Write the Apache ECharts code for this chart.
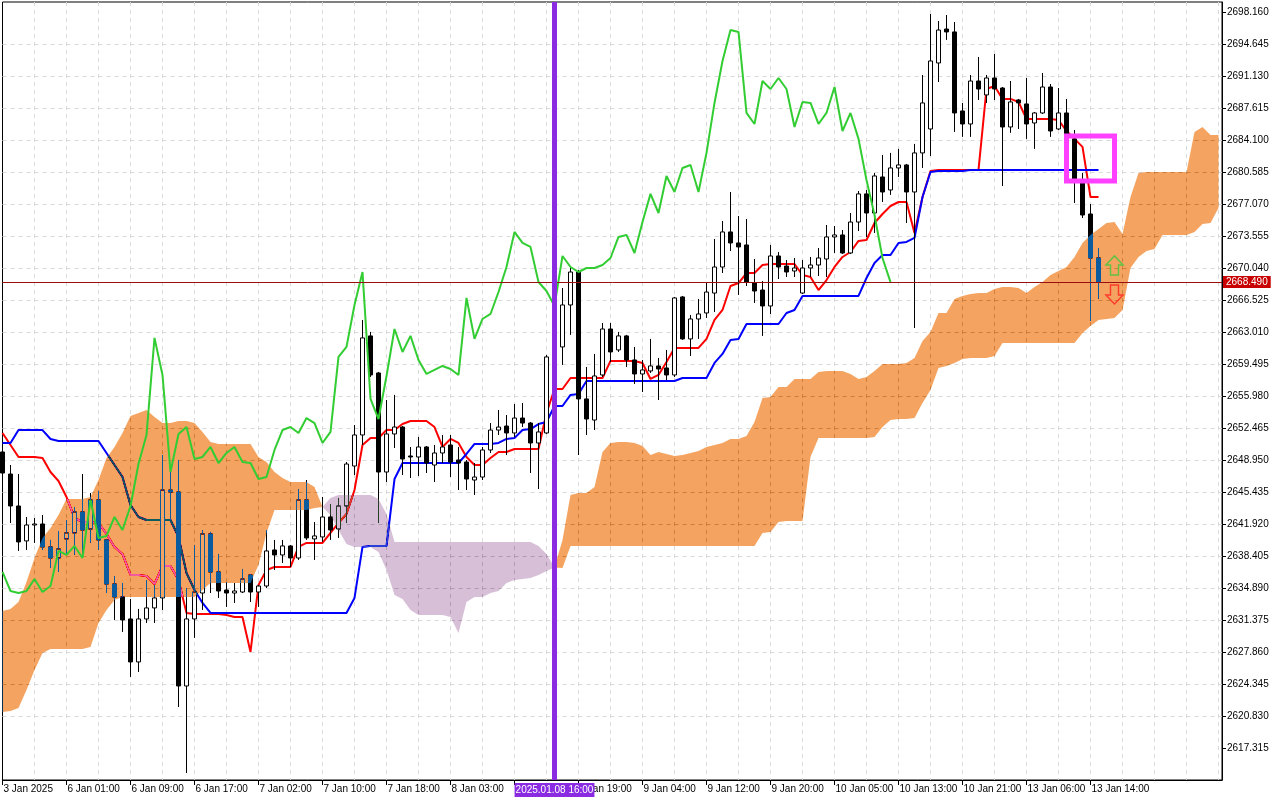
<!DOCTYPE html>
<html>
<head>
<meta charset="utf-8">
<title>XAUUSD H1 Ichimoku</title>
<script src="https://cdn.jsdelivr.net/npm/echarts@6.0.0/dist/echarts.min.js"></script>
<style>
  html, body { margin: 0; padding: 0; background: #fff; }
  #chart { width: 1280px; height: 800px; }
</style>
</head>
<body>
<div id="chart"></div>
<script>
// time axis: one label every 8 hourly bars
const tickLabels = ['3 Jan 2025', '6 Jan 01:00', '6 Jan 09:00', '6 Jan 17:00', '7 Jan 02:00', '7 Jan 10:00',
  '7 Jan 18:00', '8 Jan 03:00', '8 Jan 11:00', '8 Jan 19:00', '9 Jan 04:00', '9 Jan 12:00', '9 Jan 20:00',
  '10 Jan 05:00', '10 Jan 13:00', '10 Jan 21:00', '13 Jan 06:00', '13 Jan 14:00']
const priceTicks = [2617.315, 2620.830, 2624.345, 2627.860, 2631.375, 2634.890, 2638.405, 2641.920,
  2645.435, 2648.950, 2652.465, 2655.980, 2659.495, 2663.010, 2666.525, 2670.040, 2673.555, 2677.070,
  2680.585, 2684.100, 2687.615, 2691.130, 2694.645, 2698.160]

// candles, bar 0 .. 137
const opens = [2649.83, 2647.41, 2643.90, 2640.06, 2641.81, 2641.92, 2639.40, 2638.19, 2640.28, 2640.94,
  2643.24, 2641.37, 2644.56, 2640.17, 2635.33, 2633.91, 2631.49, 2626.77, 2631.49, 2632.70,
  2633.80, 2645.65, 2645.43, 2624.13, 2631.49, 2634.34, 2640.83, 2636.65, 2634.67, 2634.34,
  2634.45, 2636.32, 2634.45, 2635.11, 2639.07, 2638.52, 2639.51, 2638.19, 2644.56, 2640.28,
  2640.50, 2642.69, 2641.37, 2643.90, 2648.29, 2651.70, 2662.58, 2658.51, 2647.63, 2651.81,
  2652.57, 2649.39, 2649.28, 2650.38, 2648.40, 2649.72, 2650.60, 2648.95, 2648.73, 2646.75,
  2647.08, 2650.05, 2652.24, 2652.68, 2651.92, 2653.56, 2653.01, 2650.82, 2651.92, 2660.27,
  2661.37, 2665.98, 2669.60, 2655.66, 2653.34, 2658.29, 2663.34, 2661.04, 2662.58, 2659.94,
  2658.40, 2658.73, 2659.28, 2659.06, 2658.29, 2666.86, 2662.25, 2664.44, 2665.10, 2667.29,
  2670.15, 2674.00, 2672.79, 2672.57, 2668.39, 2667.62, 2665.87, 2671.36, 2670.26, 2669.71,
  2667.29, 2670.04, 2670.37, 2671.03, 2673.45, 2673.67, 2671.69, 2675.09, 2678.18, 2676.08,
  2680.04, 2678.61, 2681.03, 2681.36, 2678.39, 2682.68, 2685.31, 2692.56, 2696.29, 2695.97,
  2687.29, 2685.86, 2690.58, 2689.05, 2690.91, 2689.81, 2685.53, 2688.50, 2688.06, 2685.97,
  2687.07, 2689.92, 2685.31, 2687.07, 2684.22, 2679.71, 2675.97, 2671.14]
const closes = [2647.52, 2643.90, 2639.95, 2641.81, 2641.92, 2639.40, 2638.19, 2639.18, 2640.94, 2643.24,
  2641.26, 2644.56, 2640.17, 2635.33, 2633.91, 2631.38, 2626.77, 2631.49, 2632.70, 2633.80,
  2645.65, 2645.43, 2624.13, 2631.49, 2634.45, 2640.83, 2636.65, 2634.56, 2634.34, 2634.56,
  2635.88, 2634.45, 2635.11, 2638.96, 2638.52, 2639.51, 2638.19, 2644.56, 2640.39, 2640.61,
  2642.69, 2641.26, 2643.90, 2648.51, 2651.70, 2662.36, 2658.29, 2647.63, 2651.81, 2652.57,
  2649.06, 2649.28, 2650.38, 2648.62, 2649.72, 2650.38, 2648.73, 2648.62, 2646.86, 2647.08,
  2650.05, 2652.24, 2652.57, 2651.92, 2653.56, 2653.01, 2650.82, 2652.03, 2660.27, 2661.37,
  2665.98, 2669.60, 2655.66, 2653.45, 2658.18, 2663.34, 2660.82, 2662.58, 2659.94, 2658.40,
  2658.84, 2659.28, 2658.95, 2658.29, 2666.75, 2662.25, 2664.44, 2664.99, 2667.40, 2670.15,
  2674.00, 2672.79, 2672.35, 2668.50, 2667.51, 2665.87, 2671.36, 2670.15, 2669.60, 2670.04,
  2670.04, 2670.37, 2671.14, 2673.45, 2673.67, 2671.69, 2675.09, 2678.18, 2676.08, 2680.15,
  2678.39, 2681.03, 2681.36, 2678.39, 2682.68, 2688.17, 2692.78, 2696.18, 2695.97, 2687.07,
  2685.86, 2690.58, 2689.70, 2690.91, 2689.70, 2685.53, 2688.28, 2688.17, 2685.86, 2687.07,
  2689.92, 2685.09, 2687.07, 2684.22, 2679.71, 2675.86, 2671.14, 2668.49]
const lows = [2647.19, 2642.03, 2638.96, 2639.07, 2639.84, 2639.07, 2637.09, 2636.65, 2638.52, 2638.52,
  2638.30, 2639.84, 2639.07, 2634.34, 2631.38, 2630.07, 2625.12, 2625.67, 2631.05, 2631.05,
  2632.48, 2642.36, 2621.82, 2614.57, 2629.41, 2632.48, 2634.34, 2633.80, 2632.81, 2633.25,
  2634.34, 2633.36, 2632.81, 2634.89, 2636.87, 2637.64, 2637.20, 2637.97, 2640.17, 2637.97,
  2639.95, 2640.17, 2640.39, 2642.03, 2647.30, 2650.60, 2658.07, 2642.03, 2646.53, 2650.27,
  2647.30, 2646.97, 2647.19, 2647.52, 2646.53, 2648.62, 2647.08, 2645.65, 2645.65, 2645.11,
  2646.75, 2649.72, 2651.70, 2649.50, 2651.48, 2652.57, 2647.52, 2645.76, 2651.81, 2657.74,
  2659.39, 2662.69, 2649.50, 2651.70, 2652.24, 2658.07, 2659.72, 2660.82, 2659.17, 2657.30,
  2656.42, 2658.51, 2655.54, 2657.74, 2658.07, 2662.14, 2660.38, 2662.25, 2664.55, 2665.21,
  2669.49, 2671.91, 2667.08, 2668.06, 2666.20, 2662.58, 2664.99, 2668.83, 2669.05, 2669.05,
  2667.18, 2669.05, 2669.16, 2669.05, 2671.69, 2671.58, 2671.58, 2674.10, 2673.45, 2673.89,
  2677.29, 2678.07, 2680.04, 2674.98, 2663.45, 2681.03, 2682.35, 2690.47, 2695.09, 2684.99,
  2684.44, 2684.44, 2688.50, 2688.17, 2688.50, 2679.05, 2684.88, 2685.31, 2684.22, 2683.12,
  2686.96, 2684.44, 2685.20, 2683.78, 2677.18, 2675.53, 2664.22, 2666.64]
const highs = [2650.27, 2648.40, 2647.41, 2642.69, 2642.58, 2642.91, 2640.17, 2641.15, 2642.36, 2643.79,
  2647.41, 2645.32, 2645.54, 2640.28, 2636.21, 2635.44, 2633.69, 2632.59, 2635.77, 2635.22,
  2649.50, 2647.63, 2648.95, 2634.89, 2639.62, 2641.26, 2641.05, 2638.63, 2635.55, 2635.44,
  2636.98, 2636.43, 2635.22, 2641.26, 2640.17, 2640.17, 2639.62, 2645.76, 2646.75, 2642.14,
  2644.89, 2644.12, 2644.78, 2648.73, 2652.79, 2664.33, 2663.02, 2658.62, 2655.54, 2656.10,
  2652.68, 2650.38, 2651.48, 2650.49, 2650.60, 2651.70, 2651.70, 2650.38, 2648.95, 2648.62,
  2650.38, 2653.01, 2654.44, 2653.89, 2655.10, 2655.21, 2653.12, 2653.01, 2660.49, 2662.14,
  2667.84, 2670.04, 2669.82, 2659.17, 2660.60, 2664.00, 2664.00, 2663.02, 2662.69, 2661.37,
  2659.94, 2662.25, 2660.16, 2661.04, 2666.86, 2666.97, 2664.88, 2666.64, 2668.50, 2673.23,
  2675.20, 2678.39, 2675.75, 2675.42, 2671.03, 2668.61, 2672.57, 2671.80, 2670.92, 2671.14,
  2670.92, 2671.25, 2672.24, 2674.76, 2674.65, 2674.21, 2676.08, 2678.50, 2678.61, 2680.48,
  2682.46, 2682.68, 2683.12, 2681.47, 2683.67, 2691.24, 2697.94, 2697.17, 2697.83, 2697.06,
  2688.17, 2691.24, 2693.22, 2691.24, 2693.55, 2689.92, 2690.58, 2688.61, 2690.91, 2687.18,
  2691.46, 2690.25, 2689.81, 2688.61, 2685.20, 2680.48, 2677.07, 2672.24]

// Ichimoku lines
const tenkan = [2651.92, 2650.60, 2649.28, 2649.28, 2649.28, 2649.17, 2647.63, 2646.64, 2644.89, 2642.58,
  2642.14, 2642.14, 2642.03, 2640.83, 2639.40, 2638.63, 2636.32, 2636.32, 2636.21, 2635.33,
  2637.31, 2637.31, 2635.77, 2632.15, 2632.04, 2632.04, 2632.04, 2632.04, 2631.93, 2631.71,
  2631.71, 2627.86, 2635.22, 2636.87, 2637.20, 2637.20, 2637.20, 2639.40, 2639.84, 2639.84,
  2639.84, 2640.94, 2642.03, 2643.02, 2645.65, 2650.60, 2651.37, 2651.37, 2652.24, 2652.24,
  2652.90, 2653.23, 2653.23, 2653.23, 2652.57, 2650.38, 2651.26, 2650.82, 2649.28, 2648.40,
  2648.40, 2649.17, 2649.83, 2649.83, 2650.16, 2650.16, 2650.16, 2650.16, 2654.11, 2656.75,
  2656.75, 2657.96, 2657.96, 2657.96, 2657.96, 2657.96, 2659.83, 2659.83, 2659.83, 2659.83,
  2659.61, 2657.85, 2658.29, 2659.72, 2661.26, 2661.26, 2661.26, 2661.26, 2662.25, 2664.33,
  2665.43, 2668.06, 2668.39, 2669.49, 2669.49, 2670.37, 2670.48, 2670.48, 2670.48, 2670.48,
  2669.27, 2669.05, 2667.62, 2668.72, 2670.15, 2671.25, 2671.80, 2673.01, 2673.12, 2674.98,
  2675.97, 2676.85, 2677.29, 2677.29, 2673.89, 2677.84, 2680.70, 2680.81, 2680.81, 2680.81,
  2680.81, 2680.81, 2680.81, 2689.70, 2690.03, 2688.61, 2688.61, 2688.28, 2686.41, 2686.41,
  2686.41, 2686.41, 2686.30, 2685.09, 2684.22, 2683.34, 2677.84, 2677.84]
const kijun = [2650.82, 2650.82, 2652.24, 2652.24, 2652.24, 2652.24, 2651.26, 2651.04, 2651.04, 2651.04,
  2651.04, 2651.04, 2651.04, 2649.72, 2648.40, 2647.08, 2644.01, 2642.69, 2642.36, 2642.36,
  2642.36, 2642.36, 2640.50, 2636.54, 2634.67, 2633.25, 2632.15, 2632.15, 2632.15, 2632.15,
  2632.15, 2632.15, 2632.15, 2632.15, 2632.15, 2632.15, 2632.15, 2632.15, 2632.15, 2632.15,
  2632.15, 2632.15, 2632.15, 2632.15, 2633.80, 2639.40, 2639.51, 2639.51, 2639.51, 2646.86,
  2648.62, 2648.62, 2648.62, 2648.62, 2648.62, 2648.62, 2648.62, 2648.62, 2649.61, 2650.71,
  2650.71, 2650.71, 2650.82, 2651.26, 2651.37, 2652.24, 2652.35, 2652.90, 2653.12, 2654.88,
  2654.88, 2656.10, 2656.21, 2657.63, 2657.63, 2657.63, 2657.63, 2657.63, 2657.63, 2657.63,
  2657.63, 2657.63, 2657.63, 2657.63, 2657.63, 2657.96, 2657.96, 2657.96, 2657.96, 2659.61,
  2660.60, 2662.14, 2662.25, 2663.89, 2663.89, 2663.89, 2663.89, 2663.89, 2665.10, 2665.43,
  2666.97, 2666.97, 2666.97, 2666.97, 2666.97, 2666.97, 2666.97, 2666.97, 2668.94, 2670.59,
  2671.47, 2671.47, 2672.79, 2672.90, 2673.34, 2677.84, 2680.59, 2680.70, 2680.70, 2680.70,
  2680.70, 2680.81, 2680.81, 2680.81, 2680.81, 2680.81, 2680.81, 2680.81, 2680.81, 2680.81,
  2680.81, 2680.81, 2680.81, 2680.81, 2680.81, 2680.81, 2680.81, 2680.81]
const chikouShift = 26

// Senkou spans, already shifted forward, bar 0 .. 152
const spanA = [2632.37, 2632.59, 2633.36, 2635.55, 2638.19, 2640.39, 2641.48, 2642.91, 2644.67, 2644.67,
  2644.67, 2644.89, 2646.75, 2649.17, 2650.38, 2651.92, 2653.78, 2654.11, 2654.44, 2653.67,
  2653.01, 2653.01, 2653.23, 2653.23, 2653.01, 2652.03, 2650.93, 2650.71, 2650.71, 2650.71,
  2650.71, 2650.71, 2649.28, 2648.73, 2647.63, 2646.97, 2646.53, 2646.53, 2646.53, 2645.98,
  2643.79, 2642.91, 2641.26, 2639.73, 2639.40, 2639.40, 2639.40, 2638.85, 2636.87, 2634.12,
  2633.69, 2632.48, 2631.93, 2631.93, 2631.93, 2631.93, 2631.71, 2629.96, 2633.36, 2633.91,
  2633.91, 2634.34, 2634.56, 2635.44, 2635.77, 2635.88, 2635.99, 2636.32, 2636.76, 2637.15,
  2640.17, 2645.11, 2645.32, 2645.32, 2645.98, 2649.83, 2650.82, 2650.93, 2650.93, 2650.82,
  2650.49, 2649.50, 2649.83, 2649.61, 2649.39, 2649.50, 2649.72, 2649.94, 2650.38, 2650.60,
  2650.82, 2651.26, 2651.26, 2651.59, 2653.12, 2655.76, 2655.87, 2656.97, 2656.97, 2657.85,
  2657.85, 2657.85, 2658.62, 2658.73, 2658.73, 2658.73, 2658.40, 2657.85, 2658.07, 2658.73,
  2659.50, 2659.50, 2659.50, 2659.61, 2660.16, 2662.03, 2663.02, 2665.10, 2665.10, 2666.64,
  2666.97, 2667.18, 2667.29, 2667.29, 2667.73, 2667.95, 2667.95, 2667.84, 2667.29, 2667.95,
  2668.50, 2669.27, 2669.71, 2670.15, 2671.25, 2672.79, 2673.67, 2674.32, 2674.98, 2675.09,
  2673.78, 2677.84, 2680.48, 2680.59, 2680.59, 2680.59, 2680.59, 2680.59, 2680.59, 2684.98,
  2685.53, 2684.66, 2684.66]
const spanB = [2621.27, 2621.38, 2621.71, 2623.69, 2625.89, 2627.75, 2628.19, 2628.19, 2628.19, 2628.19,
  2628.19, 2628.41, 2631.05, 2632.48, 2633.58, 2633.91, 2633.91, 2633.91, 2633.91, 2633.91,
  2633.91, 2633.91, 2633.91, 2633.91, 2633.91, 2634.67, 2635.44, 2635.44, 2635.44, 2635.44,
  2635.44, 2635.44, 2637.42, 2640.94, 2643.46, 2643.46, 2643.46, 2643.46, 2643.46, 2643.68,
  2643.79, 2644.78, 2645.11, 2645.11, 2645.11, 2645.11, 2645.11, 2644.67, 2643.02, 2639.95,
  2639.95, 2639.95, 2639.95, 2639.95, 2639.95, 2639.95, 2639.95, 2639.95, 2639.95, 2639.95,
  2639.95, 2639.95, 2639.95, 2639.95, 2639.95, 2639.95, 2639.95, 2639.51, 2638.63, 2637.15,
  2637.09, 2639.51, 2639.51, 2639.51, 2639.51, 2639.51, 2639.51, 2639.51, 2639.51, 2639.51,
  2639.51, 2639.51, 2639.51, 2639.51, 2639.51, 2639.51, 2639.51, 2639.51, 2639.51, 2639.51,
  2639.51, 2639.51, 2639.51, 2639.51, 2639.51, 2640.94, 2641.05, 2642.14, 2642.25, 2642.25,
  2642.25, 2649.28, 2651.37, 2651.37, 2651.37, 2651.37, 2651.37, 2651.37, 2651.37, 2651.48,
  2652.57, 2653.34, 2653.45, 2653.45, 2653.56, 2655.21, 2656.64, 2659.06, 2659.28, 2659.61,
  2660.05, 2660.16, 2660.16, 2660.16, 2660.38, 2661.81, 2661.81, 2661.81, 2661.81, 2661.81,
  2661.81, 2661.81, 2661.81, 2661.81, 2661.81, 2662.91, 2663.67, 2664.33, 2664.44, 2664.55,
  2665.43, 2670.04, 2671.25, 2671.91, 2672.13, 2673.67, 2673.67, 2673.67, 2673.67, 2674.00,
  2674.87, 2674.98, 2676.63]

// objects drawn on the chart
const lastPrice = 2668.49
const markerBar = 69
const markerLabel = '2025.01.08 16:00'
const boxBars = [133, 139]
const boxPrices = [2684.54, 2679.60]
const arrowBar = 139
const arrowUp = 2670.32
const arrowDown = 2667.13

const FONT = "'Liberation Sans', Arial, sans-serif"
const X_MAX = 152.4375
const tickBars = tickLabels.map((_, k) => k * 8)

// cloud runs: split where span A and span B cross
function cloudRuns() {
  const runs = []
  let cur = null
  for (let i = 0; i < spanA.length; i++) {
    const d = spanA[i] - spanB[i]
    const sign = d > 0 ? 1 : d < 0 ? -1 : 0
    if (!cur) { cur = { sign, pts: [[i, spanA[i], spanB[i]]] }; continue }
    if (sign === 0) {
      cur.pts.push([i, spanA[i], spanB[i]])
      runs.push(cur)
      cur = { sign: 0, pts: [[i, spanA[i], spanB[i]]] }
      continue
    }
    if (cur.sign === 0) cur.sign = sign
    if (sign !== cur.sign) {
      const dp = spanA[i - 1] - spanB[i - 1]
      const t = dp / (dp - d)
      const x = i - 1 + t
      const y = spanA[i - 1] + t * (spanA[i] - spanA[i - 1])
      cur.pts.push([x, y, y])
      runs.push(cur)
      cur = { sign, pts: [[x, y, y]] }
    }
    cur.pts.push([i, spanA[i], spanB[i]])
  }
  if (cur) runs.push(cur)
  return runs.filter(r => r.sign !== 0 && r.pts.length > 1)
}
const runs = cloudRuns()

const chart = echarts.init(document.getElementById('chart'), null, { renderer: 'canvas' })

const upArrow = 'path://M8.5,0L17,9L12.5,9L12.5,19L4.5,19L4.5,9L0,9Z'
const downArrow = 'path://M4.5,0L12.5,0L12.5,10L17,10L8.5,19L0,10L4.5,10Z'

chart.setOption({
  backgroundColor: '#ffffff',
  animation: false,
  grid: { left: 2.5, right: 58, top: 2, bottom: 20, show: true, borderColor: '#000', borderWidth: 1, backgroundColor: 'transparent' },
  xAxis: [
    {
      type: 'value', min: 0, max: X_MAX, interval: 4, position: 'bottom',
      axisLine: { show: true, onZero: false, lineStyle: { color: '#000', width: 1 } },
      axisTick: { show: false }, axisLabel: { show: false },
      splitLine: { show: true, showMinLine: false, showMaxLine: false, lineStyle: { color: '#d9d9d9', type: [4, 4], width: 1 } }
    },
    {
      type: 'value', min: 0, max: X_MAX, position: 'bottom',
      axisLine: { show: false, onZero: false },
      axisTick: { show: true, length: 5, customValues: tickBars, lineStyle: { color: '#000' } },
      axisLabel: {
        show: true, customValues: tickBars, align: 'left', margin: 4, padding: [0, 0, 0, 1],
        color: '#000', fontSize: 10, fontFamily: FONT,
        formatter: v => tickLabels[Math.round(v / 8)] || ''
      },
      splitLine: { show: false }
    }
  ],
  yAxis: {
    type: 'value', position: 'right', min: 2613.8, max: 2699.258, interval: 3.515,
    axisLine: { show: true, onZero: false, lineStyle: { color: '#000', width: 1 } },
    axisTick: { show: true, length: 4, customValues: priceTicks, lineStyle: { color: '#000' } },
    axisLabel: {
      show: true, customValues: priceTicks, margin: 5, color: '#000', fontSize: 10, fontFamily: FONT,
      formatter: v => v.toFixed(3)
    },
    splitLine: { show: true, showMinLine: false, showMaxLine: false, lineStyle: { color: '#d9d9d9', type: [4, 4], width: 1 } }
  },
  series: [
    {
      name: 'XAUUSD', type: 'candlestick', z: 2, clip: false, silent: true,
      barWidth: 5,
      encode: { x: 0, y: [1, 2, 3, 4] },
      data: opens.map((o, i) => [i, o, closes[i], lows[i], highs[i]]),
      itemStyle: { color: '#ffffff', color0: '#000000', borderColor: '#000000', borderColor0: '#000000', borderWidth: 1 },
      markLine: {
        silent: true, symbol: ['none', 'none'], animation: false,
        lineStyle: { color: '#9a1010', width: 1, type: 'solid' },
        label: {
          show: true, position: 'end', distance: 1, formatter: lastPrice.toFixed(3),
          color: '#fff', backgroundColor: '#c80000', padding: [1, 3], fontSize: 10, fontFamily: FONT
        },
        data: [{ yAxis: lastPrice }]
      }
    },
    {
      name: 'Tenkan-sen', type: 'line', z: 2, symbol: 'none', silent: true,
      data: tenkan.map((v, i) => [i, v]),
      lineStyle: { color: '#ff0000', width: 2 }
    },
    {
      name: 'Kijun-sen', type: 'line', z: 2, symbol: 'none', silent: true,
      data: kijun.map((v, i) => [i, v]),
      lineStyle: { color: '#0000ff', width: 2 }
    },
    {
      // difference blend reproduces the terminal's XOR-painted kumo
      name: 'Kumo', type: 'custom', z: 3, clip: true, silent: true, blendMode: 'difference',
      encode: { x: 0, y: 1 },
      data: [[0, spanA[0]]],
      renderItem: (params, api) => ({
        type: 'group',
        children: runs.map(r => {
          const a = r.pts.map(p => api.coord([p[0], p[1]]))
          const b = r.pts.map(p => api.coord([p[0], p[2]])).reverse()
          return {
            type: 'polygon',
            shape: { points: a.concat(b) },
            style: { fill: r.sign > 0 ? '#0b5b9f' : '#274027', stroke: null, blend: 'difference' }
          }
        })
      })
    },
    {
      name: 'Chikou Span', type: 'line', z: 4, symbol: 'none', silent: true,
      data: closes.slice(chikouShift).map((v, i) => [i, v]),
      lineStyle: { color: '#32cd32', width: 2 }
    },
    {
      name: 'box', type: 'custom', z: 5, silent: true,
      encode: { x: 0, y: 1 },
      data: [[boxBars[0], boxPrices[0]]],
      renderItem: (params, api) => {
        const p0 = api.coord([boxBars[0], boxPrices[0]])
        const p1 = api.coord([boxBars[1], boxPrices[1]])
        return {
          type: 'rect',
          shape: { x: p0[0], y: p0[1], width: p1[0] - p0[0], height: p1[1] - p0[1] },
          style: { fill: 'transparent', stroke: '#ff40ff', lineWidth: 5 }
        }
      }
    },
    {
      name: 'signals', type: 'scatter', z: 6, silent: true,
      symbolSize: [17, 19],
      itemStyle: { color: 'rgba(0,0,0,0)', borderWidth: 1.5 },
      data: [
        { value: [arrowBar, arrowUp], symbol: upArrow, itemStyle: { borderColor: '#3cc83c' } },
        { value: [arrowBar, arrowDown], symbol: downArrow, itemStyle: { borderColor: '#ff2020' } }
      ],
      markLine: {
        silent: true, symbol: ['none', 'none'], animation: false,
        lineStyle: { color: '#8a2be2', width: 5, type: 'solid' },
        label: {
          show: true, position: 'start', distance: 3, formatter: markerLabel,
          color: '#fff', backgroundColor: '#8a2be2', padding: [2, 1], fontSize: 10, fontFamily: FONT
        },
        data: [{ xAxis: markerBar }]
      }
    }
  ]
})
</script>
</body>
</html>
